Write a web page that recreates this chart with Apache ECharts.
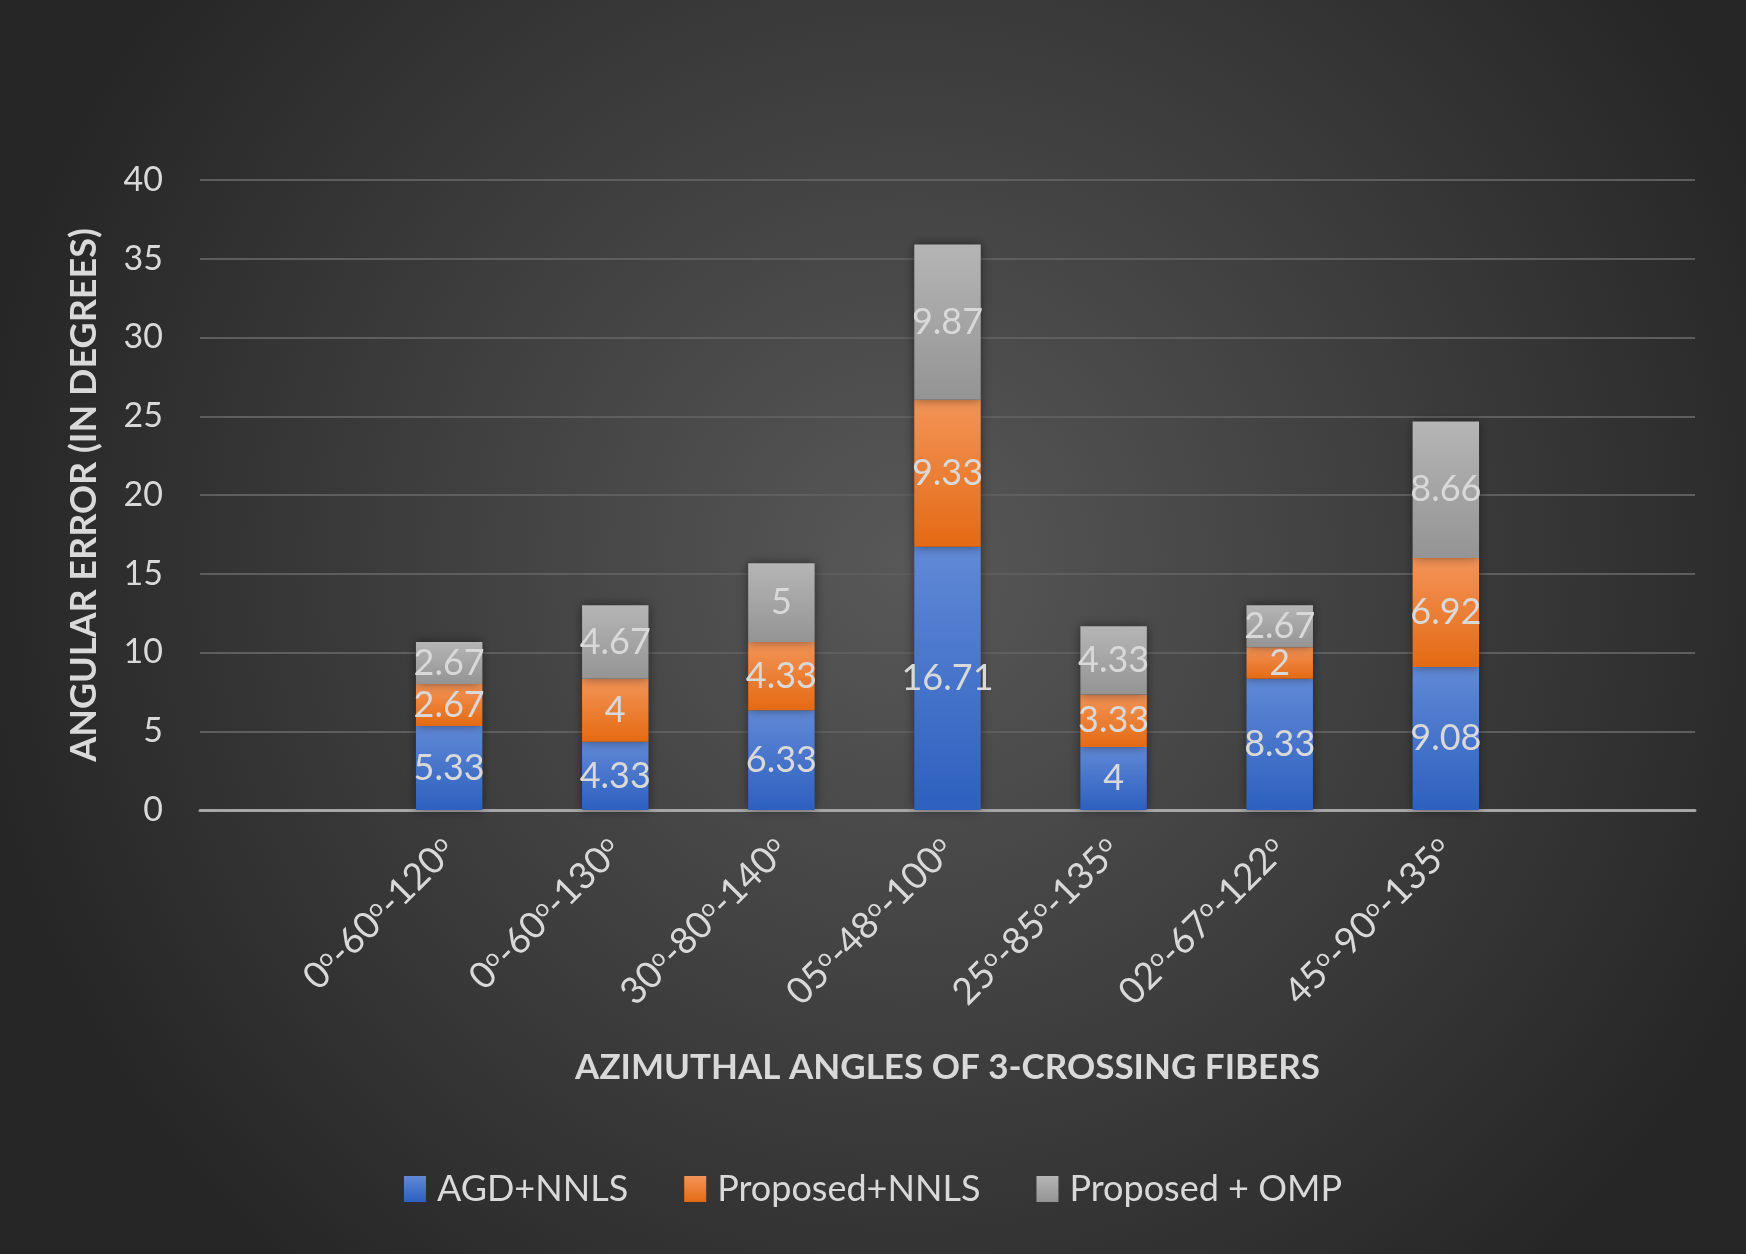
<!DOCTYPE html>
<html>
<head>
<meta charset="utf-8">
<script src="https://cdn.jsdelivr.net/npm/echarts@6/dist/echarts.min.js"></script>
<style>
  html, body { margin: 0; padding: 0; background: #2a2a2a; }
  #chart { width: 1746px; height: 1254px; }
</style>
</head>
<body>
<div id="chart"></div>
<script>
// Categories (first and last slots are empty in the original chart)
const categories = ['', '0o-60o-120o', '0o-60o-130o', '30o-80o-140o', '05o-48o-100o', '25o-85o-135o', '02o-67o-122o', '45o-90o-135o', ''];
const agdNnls = [null, 5.33, 4.33, 6.33, 16.71, 4, 8.33, 9.08, null];
const proposedNnls = [null, 2.67, 4, 4.33, 9.33, 3.33, 2, 6.92, null];
const proposedOmp = [null, 2.67, 4.67, 5, 9.87, 4.33, 2.67, 8.66, null];
const yTicks = [0, 40, 5]; // min, max, interval

const FONT = 'Lato';
const TEXT = '#d9d9d9';

function grad(top, bottom) {
  return new echarts.graphic.LinearGradient(0, 0, 0, 1, [
    { offset: 0, color: top },
    { offset: 1, color: bottom },
  ]);
}

function barSeries(name, data, top, bottom) {
  return {
    name: name,
    type: 'bar',
    stack: 'total',
    barWidth: '40%',
    data: data,
    itemStyle: {
      color: grad(top, bottom),
      shadowBlur: 10,
      shadowColor: 'rgba(0,0,0,0.45)',
    },
    label: {
      show: true,
      position: 'inside',
      color: TEXT,
      fontFamily: FONT,
      fontSize: 36,
    },
  };
}

const chart = echarts.init(document.getElementById('chart'));

chart.setOption({
  animation: false,
  backgroundColor: {
    type: 'radial',
    x: 0.52, y: 0.45, r: 0.75,
    colorStops: [
      { offset: 0, color: '#585858' },
      { offset: 1, color: '#262626' },
    ],
  },
  textStyle: { fontFamily: FONT },
  grid: { left: 200, right: 51, top: 180, bottom: 444, containLabel: false },
  legend: {
    bottom: 42,
    left: 'center',
    icon: 'rect',
    itemWidth: 22,
    itemHeight: 26,
    itemGap: 56,
    textStyle: { color: TEXT, fontSize: 36, fontFamily: FONT, padding: [0, 0, 0, 6] },
    data: ['AGD+NNLS', 'Proposed+NNLS', 'Proposed + OMP'],
  },
  xAxis: {
    type: 'category',
    data: categories,
    name: 'AZIMUTHAL ANGLES OF 3-CROSSING FIBERS',
    nameLocation: 'middle',
    nameGap: 240,
    nameTextStyle: { color: TEXT, fontSize: 35, fontWeight: 'bold', fontFamily: FONT },
    axisLine: { lineStyle: { color: '#a6a6a6', width: 3 } },
    axisTick: { show: false },
    axisLabel: {
      interval: 0,
      rotate: 45,
      margin: 34,
      color: TEXT,
      fontSize: 37,
      fontFamily: FONT,
      formatter: function (v) { return v.replace(/o/g, '{s|o}'); },
      rich: {
        s: { fontSize: 24, lineHeight: 8, verticalAlign: 'top', color: TEXT, fontFamily: FONT },
      },
    },
  },
  yAxis: {
    type: 'value',
    min: yTicks[0],
    max: yTicks[1],
    interval: yTicks[2],
    name: 'ANGULAR ERROR (IN DEGREES)',
    nameLocation: 'middle',
    nameRotate: 90,
    nameGap: 98,
    nameTextStyle: { color: TEXT, fontSize: 36, fontWeight: 'bold', fontFamily: FONT },
    axisLine: { show: false },
    axisTick: { show: false },
    axisLabel: { color: TEXT, fontSize: 34, fontFamily: FONT, margin: 37 },
    splitLine: { lineStyle: { color: '#5e5e5e', width: 2 } },
  },
  series: [
    barSeries('AGD+NNLS', agdNnls, '#6189d6', '#2d60bf'),
    barSeries('Proposed+NNLS', proposedNnls, '#f39458', '#e46a13'),
    barSeries('Proposed + OMP', proposedOmp, '#b5b5b5', '#949494'),
  ],
});
</script>
</body>
</html>
